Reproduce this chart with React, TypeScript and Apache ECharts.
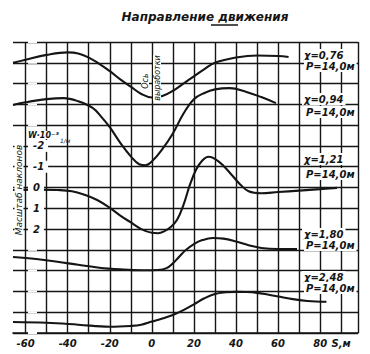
import React, { useEffect, useRef } from "react";
import * as echarts from "echarts";

// S, m (horizontal distance) and vertical position in chart units (grid rows; W-scale of curve 3)
const s1 = [-66, -60, -50, -40, -35, -30, -25, -20, -15, -10, -5, 0, 5, 10, 15, 20, 25, 30, 40, 50, 60, 65];
const w1 = [-6.0, -6.15, -6.38, -6.5, -6.45, -6.25, -5.95, -5.6, -5.2, -4.85, -4.5, -4.33, -4.4, -4.65, -5.0, -5.35, -5.7, -6.0, -6.25, -6.35, -6.33, -6.28];

const s2 = [-66, -60, -50, -42, -35, -28, -24, -20, -15, -10, -6, -3, 0, 5, 10, 15, 20, 25, 30, 37, 45, 52, 59];
const w2 = [-3.97, -4.1, -4.25, -4.3, -4.15, -3.82, -3.4, -2.9, -2.15, -1.5, -1.12, -1.07, -1.25, -1.85, -2.6, -3.55, -4.25, -4.55, -4.72, -4.78, -4.6, -4.35, -4.06];

const s3 = [-66, -55, -45, -38, -32, -26, -20, -15, -10, -5, 0, 3, 6, 9, 12, 15, 18, 21, 24, 27, 30, 34, 38, 42, 46, 52, 60, 70, 80, 88];
const w3 = [0.12, 0.1, 0.12, 0.18, 0.35, 0.6, 0.98, 1.35, 1.68, 2.0, 2.18, 2.2, 2.1, 1.9, 1.55, 0.85, -0.1, -0.85, -1.3, -1.48, -1.38, -1.05, -0.6, -0.15, 0.18, 0.28, 0.22, 0.15, 0.08, 0.02];

const s4 = [-66, -55, -45, -35, -25, -15, -5, 3, 7, 10, 13, 16, 20, 24, 29, 34, 40, 46, 52, 60, 69];
const w4 = [3.34, 3.44, 3.57, 3.72, 3.86, 3.94, 3.98, 3.97, 3.88, 3.65, 3.33, 3.02, 2.72, 2.53, 2.43, 2.46, 2.6, 2.78, 2.91, 2.96, 2.96];

const s5 = [-66, -50, -35, -20, -10, -5, 0, 5, 10, 15, 20, 25, 30, 35, 40, 45, 50, 55, 61, 67, 74, 83];
const w5 = [6.47, 6.51, 6.6, 6.7, 6.66, 6.6, 6.45, 6.3, 6.13, 5.9, 5.62, 5.33, 5.12, 5.04, 5.02, 5.03, 5.07, 5.15, 5.26, 5.37, 5.46, 5.5];

const chiLabels = ["χ=0,76", "χ=0,94", "χ=1,21", "χ=1,80", "χ=2,48"];
const pLabel = "P=14,0м";
const xTickLabels = [-60, -40, -20, 0, 20, 40, 60, 80, 90];
const gridXs = [-60, -50, -40, -30, -20, -10, 0, 10, 20, 30, 40, 50, 60, 70, 80, 90, 98];
const wTicks = [-2, -1, 0, 1, 2];

const INK = "#151515";
const FONT = '"DejaVu Sans", sans-serif';

const zip = (s: number[], w: number[]) => s.map((v, i) => [v, w[i]]);

export default function App() {
  const ref = useRef<HTMLDivElement>(null);
  useEffect(() => {
    if (!ref.current) return;
    const chart = echarts.init(ref.current, undefined, { renderer: "svg" });
    const curves = [
      [s1, w1],
      [s2, w2],
      [s3, w3],
      [s4, w4],
      [s5, w5],
    ];
    const labelPos = [
      [55, 66],
      [99, 112],
      [159, 174],
      [234, 245],
      [277, 288],
    ];
    const labelGraphics: any[] = [];
    chiLabels.forEach((t, i) => {
      labelGraphics.push({
        type: "text",
        x: 302,
        y: labelPos[i][0],
        z: 100,
        style: {
          text: t,
          fill: INK,
          font: `italic bold 10px ${FONT}`,
          verticalAlign: "middle",
          backgroundColor: "#fff",
          padding: [1, 2],
        },
      });
      labelGraphics.push({
        type: "text",
        x: 304,
        y: labelPos[i][1],
        z: 100,
        style: {
          text: pLabel,
          fill: INK,
          font: `italic bold 10px ${FONT}`,
          verticalAlign: "middle",
          backgroundColor: "#fff",
          padding: [1, 2],
        },
      });
    });

    chart.setOption({
      animation: false,
      backgroundColor: "#fff",
      grid: { left: 13, right: 12, top: 42, bottom: 21 },
      xAxis: {
        type: "value",
        min: -66,
        max: 98,
        axisLine: { show: true, onZero: false, lineStyle: { color: INK, width: 1.6 } },
        axisTick: { show: false },
        splitLine: { show: false },
        axisLabel: {
          customValues: xTickLabels,
          formatter: (v: number) => (v === 90 ? "S,м" : String(v)),
          color: INK,
          fontStyle: "italic",
          fontWeight: "bold",
          fontFamily: FONT,
          fontSize: 10,
          margin: 5,
        },
      },
      yAxis: [
        {
          type: "value",
          min: -7,
          max: 7,
          interval: 1,
          inverse: true,
          axisLine: { show: false },
          axisTick: { show: false },
          axisLabel: { show: false },
          splitLine: { show: true, lineStyle: { color: INK, width: 1.4 } },
        },
        {
          type: "value",
          min: -7,
          max: 7,
          interval: 1,
          inverse: true,
          position: "left",
          offset: -14,
          z: 20,
          axisLine: { show: false },
          axisTick: { show: false },
          splitLine: { show: false },
          axisLabel: {
            inside: true,
            margin: 1,
            formatter: (v: number) => (wTicks.indexOf(v) >= 0 ? String(v) : ""),
            color: INK,
            fontStyle: "italic",
            fontWeight: "bold",
            fontFamily: FONT,
            fontSize: 10,
            backgroundColor: "#fff",
            padding: [1, 4, 1, 5],
          },
        },
      ],
      series: curves.map((c, i) => ({
        type: "line",
        data: zip(c[0], c[1]),
        showSymbol: false,
        symbol: "none",
        smooth: 0.4,
        z: 5,
        lineStyle: { color: INK, width: 2.1 },
        silent: true,
        markLine:
          i === 0
            ? {
                silent: true,
                symbol: "none",
                label: { show: false },
                z: 1,
                lineStyle: { color: INK, width: 1.4, type: "solid" },
                data: gridXs.map((x) => ({ xAxis: x })),
              }
            : undefined,
      })),
      graphic: [
        {
          type: "text",
          x: 205,
          y: 17,
          style: {
            text: "Направление движения",
            fill: INK,
            font: `italic bold 12px ${FONT}`,
            align: "center",
            verticalAlign: "middle",
          },
        },
        {
          type: "line",
          shape: { x1: 211, y1: 25, x2: 238, y2: 25 },
          style: { stroke: INK, lineWidth: 1.5 },
        },
        {
          type: "text",
          x: 145,
          y: 81,
          rotation: Math.PI / 2,
          z: 100,
          style: {
            text: "Ось",
            fill: INK,
            font: `italic 8px ${FONT}`,
            align: "center",
            verticalAlign: "middle",
            backgroundColor: "#fff",
          },
        },
        {
          type: "text",
          x: 157,
          y: 78,
          rotation: Math.PI / 2,
          z: 100,
          style: {
            text: "выработки",
            fill: INK,
            font: `italic 8px ${FONT}`,
            align: "center",
            verticalAlign: "middle",
            backgroundColor: "#fff",
          },
        },
        {
          type: "text",
          x: 19,
          y: 190,
          rotation: Math.PI / 2,
          z: 100,
          style: {
            text: "Масштаб наклонов",
            fill: INK,
            font: `italic 9px ${FONT}`,
            align: "center",
            verticalAlign: "middle",
            backgroundColor: "#fff",
          },
        },
        {
          type: "text",
          x: 28,
          y: 135,
          z: 100,
          style: {
            text: "W·10⁻³",
            fill: INK,
            font: `italic bold 8px ${FONT}`,
            verticalAlign: "middle",
            backgroundColor: "#fff",
          },
        },
        {
          type: "text",
          x: 60,
          y: 140,
          z: 100,
          style: {
            text: "1/м",
            fill: INK,
            font: `italic 6px ${FONT}`,
            verticalAlign: "middle",
          },
        },
        ...labelGraphics,
      ],
    });
    return () => chart.dispose();
  }, []);
  return <div ref={ref} style={{ position: "fixed", left: 0, top: 0, width: 370, height: 354 }} />;
}
